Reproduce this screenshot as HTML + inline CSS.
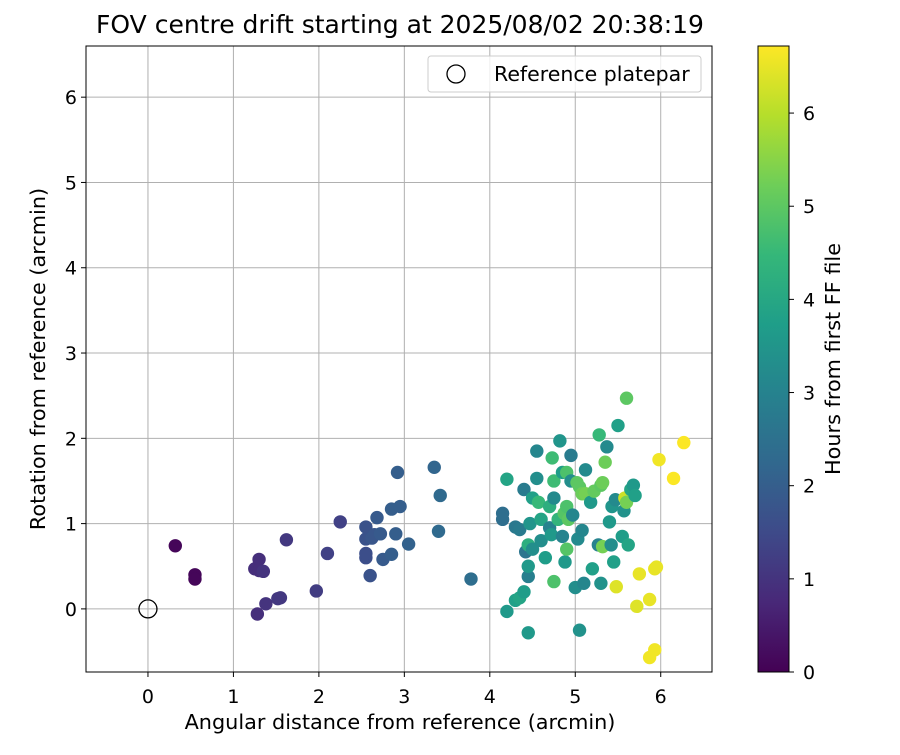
<!DOCTYPE html>
<html><head><meta charset="utf-8"><style>
body{margin:0;background:#fff;}
svg text{font-family:"DejaVu Sans","Liberation Sans",sans-serif;fill:#000;}
</style></head><body>
<svg id="c" width="900" height="750" xmlns="http://www.w3.org/2000/svg">
<defs><linearGradient id="vir" x1="0" y1="1" x2="0" y2="0"></linearGradient></defs>
<g id="grid"></g><g id="pts"></g><g id="axes"></g>
</svg>
<script>
const xs=[0.32,0.55,0.55,1.25,1.3,1.3,1.35,1.38,1.28,1.52,1.55,1.62,1.97,2.1,2.25,2.55,2.55,2.55,2.55,2.6,2.62,2.65,2.68,2.72,2.75,2.85,2.85,2.9,2.92,2.95,3.05,3.35,3.4,3.42,3.78,
4.15,4.15,4.2,4.2,4.3,4.35,4.3,4.35,4.4,4.4,4.42,4.45,4.45,4.45,4.47,4.45,4.5,4.5,4.55,4.55,4.57,4.6,4.6,4.65,4.7,4.7,4.72,4.73,4.75,4.75,4.75,4.8,4.82,4.85,4.85,4.87,4.88,4.9,4.9,4.9,4.92,4.95,4.95,4.97,5.0,5.02,5.03,5.05,5.05,5.08,5.08,5.1,5.12,5.12,5.18,5.2,5.22,5.27,5.28,5.3,5.3,5.32,5.35,5.37,5.4,5.42,5.43,5.45,5.47,5.5,5.55,5.57,5.58,5.6,5.6,5.62,5.65,5.68,5.7,5.32,
5.48,5.72,5.75,5.87,5.93,5.87,5.93,5.95,5.98,6.15,6.27];
const ys=[0.74,0.40,0.35,0.47,0.58,0.45,0.44,0.06,-0.06,0.12,0.13,0.81,0.21,0.65,1.02,0.6,0.65,0.82,0.96,0.39,0.83,0.87,1.07,0.88,0.58,0.64,1.17,0.88,1.6,1.2,0.76,1.66,0.91,1.33,0.35,
1.12,1.05,1.52,-0.03,0.96,0.93,0.1,0.13,0.2,1.4,0.67,0.38,0.5,0.75,1.0,-0.28,1.3,0.7,1.85,1.53,1.25,1.05,0.8,0.6,1.2,0.95,0.87,1.77,0.32,1.5,1.3,1.05,1.97,0.85,1.6,1.12,0.55,0.7,1.6,1.2,1.05,1.8,1.5,1.1,0.25,1.48,0.82,-0.25,1.43,1.35,0.92,0.3,1.63,1.35,1.25,0.47,1.38,0.75,2.04,0.3,1.45,0.73,1.72,1.9,1.02,0.75,1.2,0.55,1.28,2.15,0.85,1.15,1.3,2.47,1.25,0.75,1.4,1.45,1.33,1.48,
0.26,0.03,0.41,-0.57,-0.48,0.11,0.47,0.49,1.75,1.53,1.95];
const hrs=[0.1,0.1,0.1,0.9,0.9,0.9,1.0,1.0,0.9,1.1,1.1,1.1,1.2,1.3,1.3,1.6,1.6,1.7,1.7,1.7,1.8,1.8,1.9,1.9,1.9,2.0,2.0,2.0,2.0,2.0,2.1,2.2,2.3,2.3,2.4,
2.4,2.4,3.9,3.6,2.7,2.8,3.8,3.9,3.7,2.8,2.6,2.9,3.6,4.2,3.5,3.6,3.8,3.3,3.1,3.3,4.5,3.9,3.3,3.7,4.2,3.0,3.6,4.6,4.8,4.6,3.2,4.4,3.5,3.0,3.7,4.9,3.6,4.9,4.8,4.8,5.0,2.8,3.3,3.1,3.3,5.0,3.2,3.4,5.0,5.2,3.1,3.1,3.2,5.3,3.6,3.8,5.1,3.0,4.5,3.4,5.0,5.3,5.2,3.2,3.6,3.3,3.5,3.8,3.2,3.8,3.7,3.4,6.2,5.0,5.3,3.9,3.9,3.6,3.8,5.2,
6.4,6.4,6.5,6.6,6.6,6.5,6.5,6.5,6.6,6.7,6.7];
const xTicks=[0,1,2,3,4,5,6], yTicks=[0,1,2,3,4,5,6], cTicks=[0,1,2,3,4,5,6];
const L=86,R=712,T=46,B=672, XMIN=-0.725,XMAX=6.6,YMIN=-0.74,YMAX=6.6, CMAX=6.72;
const X=v=>L+(v-XMIN)/(XMAX-XMIN)*(R-L), Y=v=>B-(v-YMIN)/(YMAX-YMIN)*(B-T);
const vir=[[68,1,84],[72,40,120],[62,74,137],[49,104,142],[38,130,142],[31,158,137],[53,183,121],[110,206,88],[181,222,43],[253,231,37]];
function cmap(t){t=Math.max(0,Math.min(1,t))*(vir.length-1);const i=Math.min(Math.floor(t),vir.length-2),f=t-i;
return 'rgb('+[0,1,2].map(k=>Math.round(vir[i][k]+(vir[i+1][k]-vir[i][k])*f)).join(',')+')';}
const NS='http://www.w3.org/2000/svg';
function mk(tag,attrs,parent,txt){const e=document.createElementNS(NS,tag);for(const k in attrs)e.setAttribute(k,attrs[k]);if(txt!==undefined)e.textContent=txt;parent.appendChild(e);return e;}
const svg=document.getElementById('c'),grid=document.getElementById('grid'),pts=document.getElementById('pts'),ax=document.getElementById('axes');
const g=document.getElementById('vir');
vir.forEach((c,i)=>mk('stop',{offset:(i/(vir.length-1)*100)+'%','stop-color':'rgb('+c.join(',')+')'},g));
xTicks.forEach(t=>{const l=mk('line',{x1:X(t),x2:X(t),y1:T,y2:B,stroke:'#b0b0b0','stroke-width':1},grid);

mk('line',{x1:X(t),x2:X(t),y1:B,y2:B+5,stroke:'#000'},ax);
const tx=mk('text',{x:X(t),y:B+31,'text-anchor':'middle','font-size':19},ax,String(t));
});
yTicks.forEach(t=>{const l=mk('line',{x1:L,x2:R,y1:Y(t),y2:Y(t),stroke:'#b0b0b0','stroke-width':1},grid);

mk('line',{x1:L-5,x2:L,y1:Y(t),y2:Y(t),stroke:'#000'},ax);
const tx=mk('text',{x:L-9,y:Y(t)+7,'text-anchor':'end','font-size':19},ax,String(t));
});
xs.forEach((x,i)=>{const c=mk('circle',{cx:X(x),cy:Y(ys[i]),r:6.7,fill:cmap(hrs[i]/CMAX)},pts);
});
const ref=mk('circle',{cx:X(0),cy:Y(0),r:9,fill:'none',stroke:'#000','stroke-width':1.3},pts);

const fr=mk('rect',{x:L,y:T,width:R-L,height:B-T,fill:'none',stroke:'#000','stroke-width':1},ax);

const ti=mk('text',{x:(L+R)/2+1,y:33,'text-anchor':'middle','font-size':25},ax,'FOV centre drift starting at 2025/08/02 20:38:19');

const xl=mk('text',{x:(L+R)/2+1,y:729,'text-anchor':'middle','font-size':20.8},ax,'Angular distance from reference (arcmin)');

const yl=mk('text',{x:0,y:0,'text-anchor':'middle','font-size':20.8,transform:'translate(45,'+((T+B)/2)+') rotate(-90)'},ax,'Rotation from reference (arcmin)');

// legend
const lg=mk('g',{},ax);
mk('rect',{x:428,y:56,width:273,height:36,rx:3,fill:'#fff','fill-opacity':0.8,stroke:'#ccc'},lg);
mk('circle',{cx:456,cy:74,r:9,fill:'none',stroke:'#000','stroke-width':1.3},lg);
mk('text',{x:494,y:81,'font-size':20.5},lg,'Reference platepar');
// colorbar
const CL=758,CR=789,CT=46,CB=672,CY=v=>CB-v/CMAX*(CB-CT);
const cb=mk('rect',{x:CL,y:CT,width:CR-CL,height:CB-CT,fill:'url(#vir)',stroke:'#000'},ax);

cTicks.forEach(t=>{mk('line',{x1:CR,x2:CR+5,y1:CY(t),y2:CY(t),stroke:'#000'},ax);
const tx=mk('text',{x:CR+14,y:CY(t)+7,'font-size':19},ax,String(t));
});
const cl=mk('text',{x:0,y:0,'text-anchor':'middle','font-size':20.8,transform:'translate(840,'+((CT+CB)/2)+') rotate(-90)'},ax,'Hours from first FF file');

</script>
</body></html>
